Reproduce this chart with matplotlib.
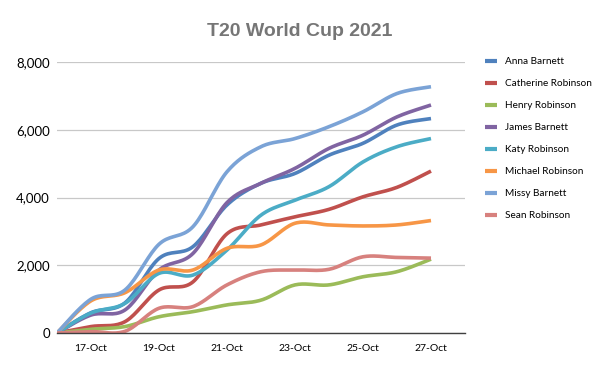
import matplotlib
matplotlib.use('Agg')
import matplotlib.pyplot as plt
import numpy as np

# daily cumulative runs, 16-Oct .. 27-Oct
dates = ['16-Oct', '17-Oct', '18-Oct', '19-Oct', '20-Oct', '21-Oct',
	'22-Oct', '23-Oct', '24-Oct', '25-Oct', '26-Oct', '27-Oct']

anna = [0, 600, 890, 2200, 2550, 3780, 4420, 4710, 5250, 5600, 6140, 6330]
catherine = [0, 190, 335, 1270, 1510, 2930, 3190, 3430, 3650, 4020, 4300, 4780]
henry = [0, 110, 190, 480, 630, 830, 970, 1420, 1420, 1660, 1810, 2180]
james = [0, 530, 680, 1860, 2350, 3850, 4420, 4860, 5450, 5840, 6380, 6730]
katy = [0, 590, 875, 1760, 1710, 2450, 3480, 3920, 4320, 5050, 5500, 5740]
michael = [0, 950, 1190, 1860, 1860, 2500, 2600, 3240, 3190, 3160, 3190, 3320]
missy = [0, 1000, 1270, 2620, 3140, 4760, 5500, 5740, 6090, 6530, 7070, 7270]
sean = [0, 40, 50, 730, 780, 1420, 1810, 1860, 1880, 2250, 2230, 2210]

series = [
	('Anna Barnett', anna, '#4F81BD'),
	('Catherine Robinson', catherine, '#C0504D'),
	('Henry Robinson', henry, '#9BBB59'),
	('James Barnett', james, '#8064A2'),
	('Katy Robinson', katy, '#4BACC6'),
	('Michael Robinson', michael, '#F79646'),
	('Missy Barnett', missy, '#7BA3D6'),
	('Sean Robinson', sean, '#D7817E'),
]


def smooth(x, y, n=20):
	# Excel-style smoothed line: cubic bezier, control points from neighbours
	x = np.asarray(x, float); y = np.asarray(y, float)
	px = np.concatenate([[x[0]], x, [x[-1]]])
	py = np.concatenate([[y[0]], y, [y[-1]]])
	t = np.linspace(0, 1, n)
	xs, ys = [], []
	for i in range(1, len(px) - 2):
		c1x = px[i] + (px[i + 1] - px[i - 1]) / 6
		c1y = py[i] + (py[i + 1] - py[i - 1]) / 6
		c2x = px[i + 1] - (px[i + 2] - px[i]) / 6
		c2y = py[i + 1] - (py[i + 2] - py[i]) / 6
		b = [(1 - t) ** 3, 3 * (1 - t) ** 2 * t, 3 * (1 - t) * t ** 2, t ** 3]
		xs.append(b[0] * px[i] + b[1] * c1x + b[2] * c2x + b[3] * px[i + 1])
		ys.append(b[0] * py[i] + b[1] * c1y + b[2] * c2y + b[3] * py[i + 1])
	return np.concatenate(xs), np.concatenate(ys)


fig = plt.figure(figsize=(6, 3.71), dpi=100)
ax = fig.add_axes([57 / 600, 38 / 371, 408 / 600, 271 / 371])

days = np.arange(len(dates))
for name, vals, col in series:
	sx, sy = smooth(days, vals)
	ax.plot(sx, sy, color=col, linewidth=2.6, solid_capstyle='butt', label=name)

ax.set_xlim(0, 12)
ax.set_ylim(0, 8000)
ax.set_xticks(days[1::2])
ax.set_xticklabels(dates[1::2], fontsize=7.5, family='Lato')
ax.set_yticks([0, 2000, 4000, 6000, 8000])
ax.set_yticklabels(['0', '2,000', '4,000', '6,000', '8,000'], fontsize=9.5, family='Lato')
ax.tick_params(axis='both', length=0)
ax.tick_params(axis='x', pad=8)
ax.tick_params(axis='y', pad=5)
ax.grid(axis='y', color='#C8C8C8', linewidth=0.9)
ax.set_axisbelow(True)
for s in ['top', 'right', 'left']:
	ax.spines[s].set_visible(False)
ax.spines['bottom'].set_color('#404040')
ax.spines['bottom'].set_linewidth(1.0)

fig.text(0.5, 1 - 32 / 371, 'T20 World Cup 2021', ha='center', va='center',
	fontsize=14, fontweight='bold', color='#767676', family='Liberation Sans')

leg = fig.legend(loc='upper left', bbox_to_anchor=(485 / 600, 1 - 57 / 371),
	frameon=False, prop={'family': 'Lato', 'size': 7.2}, handlelength=1.2,
	handletextpad=0.8, labelspacing=1.30, borderpad=0, borderaxespad=0)
for h in leg.get_lines():
	h.set_linewidth(3)

fig.savefig('out.png', dpi=100)
